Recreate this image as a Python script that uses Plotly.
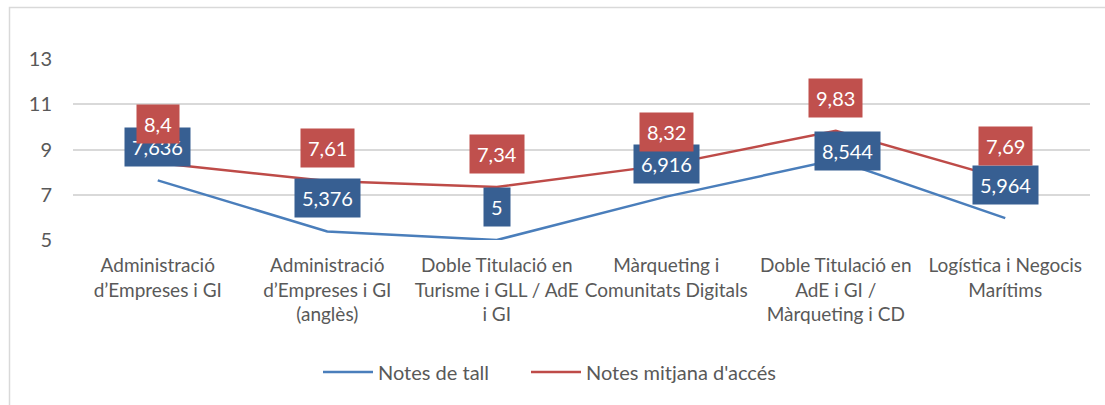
import plotly.graph_objects as go

categories = [
    "Administració<br>d’Empreses i GI",
    "Administració<br>d’Empreses i GI<br>(anglès)",
    "Doble Titulació en<br>Turisme i GLL / AdE<br>i GI",
    "Màrqueting i<br>Comunitats Digitals",
    "Doble Titulació en<br>AdE i GI /<br>Màrqueting i CD",
    "Logística i Negocis<br>Marítims",
]
notes_tall = [7.636, 5.376, 5.0, 6.916, 8.544, 5.964]
notes_tall_text = ["7,636", "5,376", "5", "6,916", "8,544", "5,964"]
notes_mitjana = [8.4, 7.61, 7.34, 8.32, 9.83, 7.69]
notes_mitjana_text = ["8,4", "7,61", "7,34", "8,32", "9,83", "7,69"]
y_ticks = [5, 7, 9, 11, 13]

FONT = "Lato"
TXT = "#595959"
BLUE_LINE = "#4A7EBB"
RED_LINE = "#BE4B48"
BLUE_BOX = "#375F92"
RED_BOX = "#C0504D"

x = list(range(len(categories)))

fig = go.Figure()
fig.add_trace(go.Scatter(x=x, y=notes_tall, mode="lines", name="Notes de tall",
                         line=dict(color=BLUE_LINE, width=2.5), legend="legend"))
fig.add_trace(go.Scatter(x=x, y=notes_mitjana, mode="lines", name="Notes mitjana d'accés",
                         line=dict(color=RED_LINE, width=2.5), legend="legend2"))

# label offset tweaks (pixels) for manually moved labels
blue_shift = {4: (12, 9)}
red_shift = {0: (0, 39)}

annotations = []
for i, (v, t) in enumerate(zip(notes_tall, notes_tall_text)):
    xs, ys = blue_shift.get(i, (0, 33))
    annotations.append(dict(x=i, y=v, text=t, showarrow=False, xshift=xs, yshift=ys,
                            bgcolor=BLUE_BOX, borderpad=7,
                            font=dict(family=FONT, size=20, color="white")))
for i, (v, t) in enumerate(zip(notes_mitjana, notes_mitjana_text)):
    xs, ys = red_shift.get(i, (0, 33))
    annotations.append(dict(x=i, y=v, text=t, showarrow=False, xshift=xs, yshift=ys,
                            bgcolor=RED_BOX, borderpad=7,
                            font=dict(family=FONT, size=20, color="white")))

L, R, T, B = 73, 15, 59, 165
W, H = 1105, 405
pw, ph = W - L - R, H - T - B

def px_x(p):
    return (p - L) / pw

def px_y(p):
    return (H - B - p) / ph

legend_common = dict(orientation="h", yanchor="middle", xanchor="left",
                     font=dict(family=FONT, size=20, color=TXT), itemwidth=50,
                     bgcolor="rgba(0,0,0,0)")

fig.update_layout(
    width=W, height=H,
    margin=dict(l=L, r=R, t=T, b=B),
    paper_bgcolor="white", plot_bgcolor="white",
    font=dict(family=FONT, color=TXT),
    showlegend=True,
    legend=dict(x=px_x(318), y=px_y(372), **legend_common),
    legend2=dict(x=px_x(526), y=px_y(372), **legend_common),
    annotations=annotations,
    shapes=[dict(type="rect", xref="paper", yref="paper",
                 x0=px_x(9.5), x1=px_x(1115), y0=px_y(415), y1=px_y(7.5),
                 line=dict(color="#D9D9D9", width=1.5), layer="below")],
    xaxis=dict(range=[-0.5, 5.5], tickvals=x, ticktext=categories, showgrid=False,
               zeroline=False, showline=False, ticks="", ticklabelstandoff=12,
               tickfont=dict(family=FONT, size=19, color=TXT)),
    yaxis=dict(range=[5, 13], tickvals=y_ticks, ticktext=[str(v) for v in y_ticks],
               showgrid=True, gridcolor="#D9D9D9", gridwidth=1.5, zeroline=False,
               showline=False, ticks="", ticklabelstandoff=20,
               tickfont=dict(family=FONT, size=20, color=TXT)),
)

fig.write_html("out.html", config={"displayModeBar": False},
               post_script="document.body.style.margin='0';document.body.style.overflow='hidden';")
